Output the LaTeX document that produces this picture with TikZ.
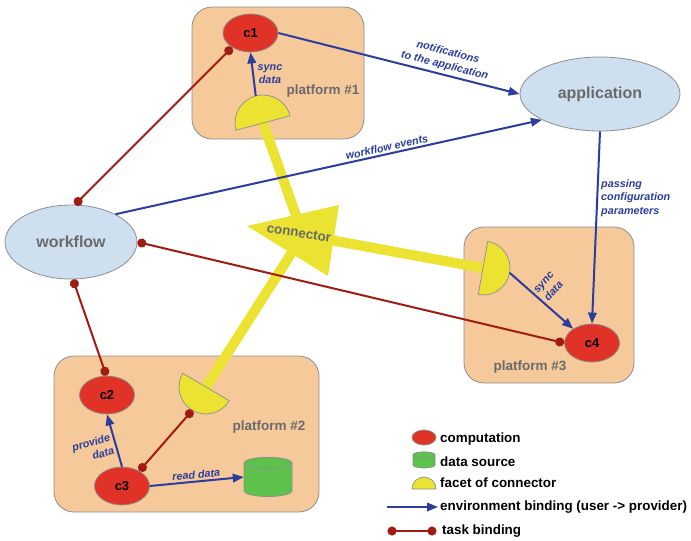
\documentclass[tikz,border=0pt]{standalone}
\usepackage{fontspec}
\setmainfont{Liberation Sans}
\usetikzlibrary{arrows.meta,shapes.geometric}

\definecolor{peach}{HTML}{F6C99B}
\definecolor{edgegrey}{HTML}{8E8E8E}
\definecolor{labelgrey}{HTML}{6A6A6A}
\definecolor{compred}{HTML}{E03226}
\definecolor{actorblue}{HTML}{CEDFEF}
\definecolor{connyellow}{HTML}{EBE232}
\definecolor{datagreen}{HTML}{5CC24B}
\definecolor{envblue}{HTML}{2B3D9E}
\definecolor{taskred}{HTML}{A01B12}

% half-disc facet: name, chord centre, rotation, radius
\newcommand\connfacet[4]{%
  \begin{scope}[shift={#2}, rotate=#3]
    \filldraw[facetfill] (-#4pt,0pt) arc[start angle=180, end angle=0, radius=#4pt] -- cycle;
    \coordinate (#1-apex) at (0pt,#4pt);
  \end{scope}}

% data source cylinder: centre x, centre y, half width, half height, cap radius
\newcommand\datacyl[5]{%
  \filldraw[cylfill] (#1-#3,#2-#4+#5) -- (#1-#3,#2+#4-#5)
    arc[start angle=180, end angle=360, x radius=#3pt, y radius=#5pt]
    -- (#1+#3,#2-#4+#5)
    arc[start angle=0, end angle=180, x radius=#3pt, y radius=#5pt] -- cycle;
  \filldraw[cylfill] (#1,#2-#4+#5) ellipse[x radius=#3pt, y radius=#5pt];}

\begin{document}
\begin{tikzpicture}[x=1pt, y=-1pt,
  platform/.style={fill=peach, draw=edgegrey, line width=0.8pt, rounded corners=20pt},
  platlabel/.style={text=labelgrey, inner sep=0pt, font=\fontsize{13.5}{16}\selectfont\bfseries},
  comp/.style={ellipse, fill=compred, draw=edgegrey, line width=0.8pt, inner sep=0pt,
    minimum width=55pt, minimum height=38pt, font=\fontsize{13}{15}\selectfont\bfseries},
  actor/.style={ellipse, fill=actorblue, draw=edgegrey, line width=0.8pt, inner sep=0pt,
    text=labelgrey, font=\fontsize{16}{19}\selectfont\bfseries},
  facetfill/.style={fill=connyellow, draw=edgegrey, line width=0.7pt},
  cylfill/.style={fill=datagreen, draw=edgegrey, line width=0.7pt},
  link/.style={draw=connyellow, line width=10pt},
  env/.style={draw=envblue, line width=2pt, -{Triangle[length=11pt,width=8.5pt]}},
  task/.style={draw=taskred, line width=2pt, {Circle[length=9pt]}-{Circle[length=9pt]}},
  elabel/.style={text=envblue, inner sep=1pt, align=center,
    font=\fontsize{10.8}{13.6}\selectfont\bfseries\itshape},
  legendtext/.style={anchor=west, inner sep=0pt, font=\fontsize{13.4}{16}\selectfont\bfseries},
]
\useasboundingbox (0,0) rectangle (691,541);

% platforms
\draw[platform] (192,7) rectangle (364,139);
\draw[platform] (54,356) rectangle (319,512);
\draw[platform] (464,227) rectangle (634,383);
\node[platlabel] (p1label) at (323,91) {platform \#1};
\node[platlabel] (p2label) at (269,427) {platform \#2};
\node[platlabel] (p3label) at (530,367) {platform \#3};

% connector: facet positions, hub and the thick links
\coordinate (f1) at (263,123);
\coordinate (f2) at (206,387);
\coordinate (f3) at (483,268);
\coordinate (hub) at (303,235);
\coordinate (t1) at (247,226);
\coordinate (t2) at (339,205);
\coordinate (t3) at (328,276);
\draw[link] (f1) -- (hub);
\draw[link] (f2) -- (hub);
\draw[link] (f3) -- (hub);
\fill[connyellow] (t1) -- (t2) -- (t3) -- cycle;
\node[text=labelgrey, rotate=-9, inner sep=0pt, font=\fontsize{13.4}{16}\selectfont\bfseries]
  (connlabel) at (299,233) {connector};
\connfacet{f1}{(f1)}{15}{28}
\connfacet{f2}{(f2)}{149.6}{27}
\connfacet{f3}{(f3)}{-100}{27}

% computations, actors, data source
\node[comp] (c1) at (250.5,33) {c1};
\node[comp] (c2) at (107,395) {c2};
\node[comp] (c3) at (122,486) {c3};
\node[comp] (c4) at (592,343) {c4};
\node[actor, minimum width=132pt, minimum height=74pt] (wf) at (71,242) {workflow};
\node[actor, minimum width=160pt, minimum height=74pt] (app) at (600,94) {application};
\datacyl{268}{477}{24}{19.5}{5.5}
\node[inner sep=0pt, minimum width=48pt, minimum height=39pt] (ds) at (268,477) {};

% environment bindings
\draw[env] (c1.east) -- node[elabel, pos=0.68, above=2pt, sloped] (l-notify)
  {notifications\\to the application} (app.west);
\draw[env] (wf.32) -- node[elabel, pos=0.64, above=1pt, sloped] (l-events)
  {workflow events} (app.204);
\draw[env] (app.south) -- (c4.north);
\node[elabel, anchor=west, align=left] (l-params) at (600,198)
  {passing\\configuration\\parameters};
\draw[env] (f1-apex) -- (c1.south);
\node[elabel] (l-sync1) at (270,74) {sync\\data};
\draw[env] (f3-apex) -- (c4.143);
\node[elabel, rotate=48] (l-sync3) at (549,287) {sync\\data};
\draw[env] (c3.north) -- (c2.south);
\node[elabel, rotate=17, align=right] (l-provide) at (93,449) {provide\\data};
\draw[env] (c3.east) -- node[elabel, above=1pt, sloped] (l-read) {read data} (ds.west);

% task bindings
\draw[task] (wf.84) -- (c1.218);
\draw[task] (wf.0) -- (c4.180);
\draw[task] (wf.-87) -- (c2.92);
\draw[task] (c3.41) -- (f2-apex);

% legend
\node[comp, minimum width=24pt, minimum height=15pt] (lg-comp) at (424,437.5) {};
\datacyl{424}{460}{11}{8}{3}
\node[inner sep=0pt, minimum width=22pt, minimum height=16pt] (lg-data) at (424,460) {};
\coordinate (lg-f) at (424,489);
\connfacet{lg-facet}{(lg-f)}{0}{12}
\coordinate (lg-env-a) at (387,507);
\coordinate (lg-env-b) at (438,507);
\draw[env] (lg-env-a) -- (lg-env-b);
\coordinate (lg-task-a) at (387.5,531);
\coordinate (lg-task-b) at (436.5,531);
\draw[task] (lg-task-a) -- (lg-task-b);
\node[legendtext] (t-comp) at (440,439) {computation};
\node[legendtext] (t-data) at (440,461.5) {data source};
\node[legendtext] (t-facet) at (440,483) {facet of connector};
\node[legendtext] (t-env) at (440,507) {environment binding (user -> provider)};
\node[legendtext] (t-task) at (442,531) {task binding};
\end{tikzpicture}
\end{document}
